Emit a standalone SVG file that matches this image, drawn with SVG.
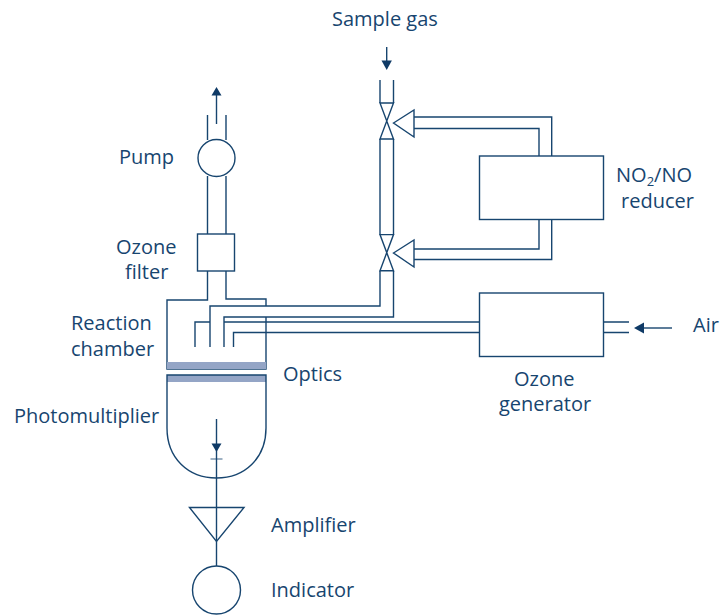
<svg xmlns="http://www.w3.org/2000/svg" width="720" height="615" viewBox="0 0 720 615">
<style>
text{font-family:"Open Sans","Noto Sans",sans-serif;font-size:20px;fill:#17456f}
.l{fill:none;stroke:#17456f;stroke-width:1.4}
.h{fill:#0f3a66;stroke:none}
.b{fill:#94a5c6;stroke:none}
</style>
<rect width="720" height="615" fill="#fff"/>
<g id="connectors">
<path class="l" d="M380 80V103M393.5 80V103M380 139V234.6M393.5 139V234.6"/>
<path class="l" d="M380 270.7V306H210V347M393.5 270.7V317H224V347M210 322H195V347"/>
<path class="l" d="M480 322H224M480 332.5H233.5V347"/>
<path class="l" d="M414 117H551.7V156M414 128.5H539V156"/>
<path class="l" d="M414 249H539V219.5M414 259.5H551.7V219.5"/>
<path class="l" d="M603.5 322H629M603.5 332.5H629"/>
<path class="l" d="M672 328H642"/><path class="h" d="M634 328L644 322.5V333.5Z"/>
<path class="l" d="M386.7 47V62"/><path class="h" d="M386.7 70L381.5 60.500H391.900Z"/>
<path class="l" d="M207.500 115V140M226 115V140M207.500 176V234M226 176V234"/>
<path class="l" d="M216.500 124V95"/><path class="h" d="M216.500 87L211.500 95.500H221.500Z"/>
<path class="l" d="M216.500 419V566"/><path class="h" d="M216.500 452L211.500 443.500H221.500Z"/>
<path class="l" d="M210.500 459H222.500" stroke-opacity=".6"/>
</g>
<g id="sample-valve-upper"><path class="l" d="M380 103H393.500L380 139H393.500Z"/><path class="l" d="M393.500 123L414 110V137Z"/></g>
<g id="sample-valve-lower"><path class="l" d="M380 234.600H393.500L380 270.700H393.500Z"/><path class="l" d="M393.500 253L414 240V267Z"/></g>
<g id="reducer"><rect class="l" x="479.500" y="156" width="124" height="63.500"/></g>
<g id="ozone-generator"><rect class="l" x="479.500" y="293" width="124" height="63.500"/></g>
<g id="pump"><circle class="l" cx="216.500" cy="158" r="18.500"/></g>
<g id="ozone-filter"><rect class="l" x="197.500" y="234" width="37" height="37"/></g>
<g id="reaction-chamber"><path class="l" d="M207.500 271V300H167V369H266V317M266 306V299H226V271"/><rect class="b" x="167" y="362" width="99" height="7"/></g>
<g id="photomultiplier"><rect class="b" x="167" y="375" width="99" height="7"/><path class="l" d="M167 375H266V428C266 458 245 478 216.500 478C188 478 167 458 167 428Z"/></g>
<g id="amplifier"><path class="l" d="M189.500 507.500H244L216.500 541.500Z"/></g>
<g id="indicator"><circle class="l" cx="216.500" cy="590" r="24"/></g>
<g id="labels">
<text x="332" y="26">Sample gas</text>
<text x="119" y="164">Pump</text>
<text x="116" y="254">Ozone</text>
<text x="125" y="279">filter</text>
<text x="71" y="330">Reaction</text>
<text x="71" y="356">chamber</text>
<text x="283" y="381">Optics</text>
<text x="14" y="423">Photomultiplier</text>
<text x="271" y="532">Amplifier</text>
<text x="271" y="597">Indicator</text>
<text x="616" y="182">NO<tspan font-size="13" dy="4">2</tspan><tspan dy="-4">/NO</tspan></text>
<text x="621" y="208">reducer</text>
<text x="693" y="332">Air</text>
<text x="514" y="386">Ozone</text>
<text x="499" y="411">generator</text>
</g>
</svg>
